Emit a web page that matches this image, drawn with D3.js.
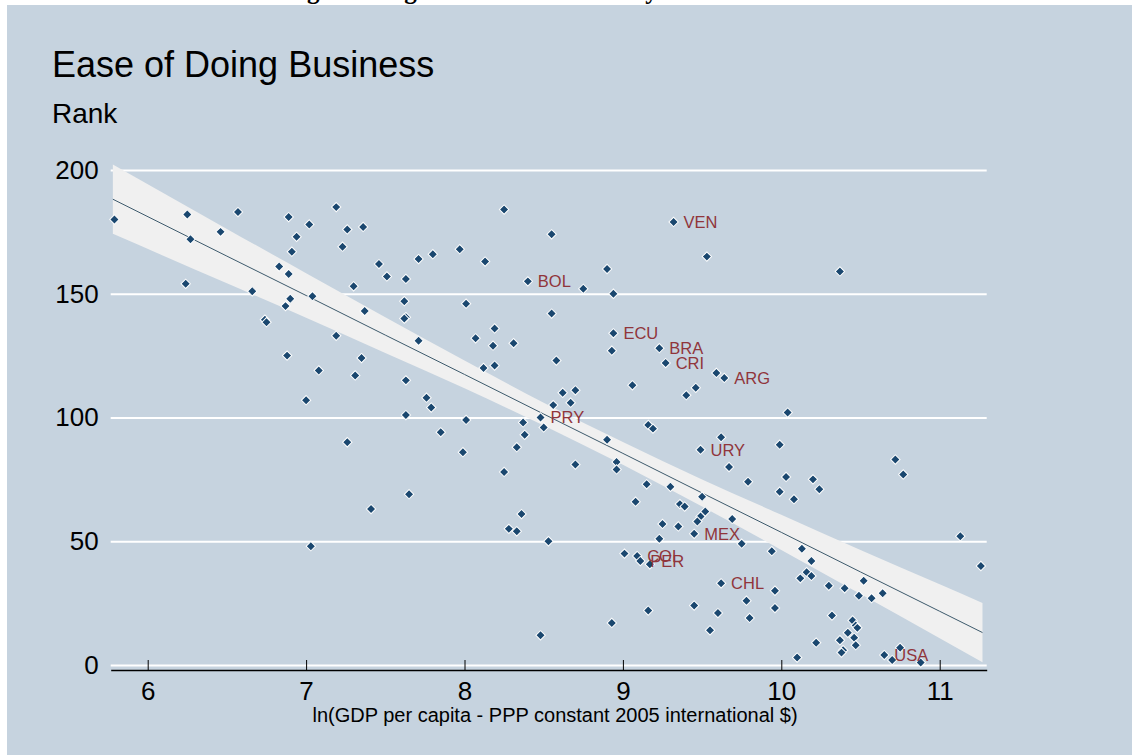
<!DOCTYPE html>
<html>
<head>
<meta charset="utf-8">
<script src="https://cdn.jsdelivr.net/npm/d3@7"></script>
<style>
  html, body { margin: 0; padding: 0; background: #ffffff; }
  svg { display: block; }
</style>
</head>
<body>
<svg id="chart" width="1132" height="755"></svg>
<script>
// ---------------- data ----------------
const lnGdp = [
  5.79, 6.25, 6.27, 6.24, 6.46, 6.57, 6.66, 6.74, 6.75, 6.83,
  6.89, 6.87, 6.90, 6.89, 6.94, 6.91, 7.02, 6.88, 7.04, 7.19,
  7.26, 7.23, 7.36, 7.30, 7.37, 7.19, 7.35, 7.08, 7.31, 7.00,
  7.46, 7.51, 7.26, 7.41, 7.03, 7.71, 7.80, 7.97, 8.13, 8.25,
  8.55, 7.63, 7.62, 7.63, 7.62, 8.01, 7.71, 8.07, 8.19, 8.18,
  8.31, 8.12, 8.19, 7.63, 7.76, 7.79, 7.63, 8.01, 8.37, 8.48,
  8.50, 8.40, 8.75, 8.90, 8.94, 8.55, 9.32, 9.53, 8.94, 8.93,
  9.23, 9.27, 9.59, 9.64, 9.40, 9.46, 9.06, 8.58, 8.62, 8.70,
  8.56, 8.67, 9.16, 9.19, 10.37, 10.04, 7.85, 7.99, 8.38, 8.33,
  8.25, 8.70, 7.65, 8.36, 8.28, 8.33, 8.53, 8.48, 8.90, 8.96,
  8.96, 9.15, 9.30, 9.08, 9.36, 9.39, 9.50, 9.52, 9.49, 9.47,
  9.25, 9.35, 9.45, 9.23, 9.69, 9.75, 9.62, 9.49, 9.67, 9.79,
  9.99, 9.01, 9.09, 9.11, 9.17, 9.62, 9.45, 9.78, 9.60, 9.16,
  9.80, 9.55, 8.93, 9.94, 9.96, 9.96, 10.03, 9.99, 10.08, 10.20,
  10.24, 10.72, 10.77, 11.13, 11.26, 10.13, 10.19, 10.16, 10.19, 10.12,
  10.30, 10.40, 10.52, 10.49, 10.57, 10.64, 10.32, 10.45, 10.47, 10.48,
  10.42, 10.46, 10.37, 10.47, 10.39, 10.38, 10.22, 10.10, 10.65, 10.70,
  10.75, 10.88
];
const rank = [
  180, 182, 172, 154, 175, 183, 151, 139.5, 138.5, 161,
  158, 145, 148, 181, 173, 167, 178, 125, 149, 185,
  176, 169, 177, 153, 143, 133, 124, 119, 117, 107,
  162, 157, 90, 63, 48, 164, 166, 168, 163, 184,
  174, 156, 147, 140.5, 140, 146, 131, 132, 136, 129,
  130, 120, 121, 115, 108, 104, 101, 99, 98, 100,
  96, 155, 152, 160, 150, 142, 179, 165, 134, 127,
  128, 122, 118, 116, 109, 112, 113, 123, 110, 111,
  105, 106, 97, 95.5, 159, 102, 94, 86, 93, 88,
  78, 81, 69, 61, 55, 54, 50, 12, 91, 82,
  79, 73, 72, 66, 65, 64, 68, 62, 60, 58,
  57, 56, 53, 51, 59, 49, 92, 87, 80, 74,
  89, 45, 44, 42, 40.7, 33, 24, 26, 21, 22,
  19, 14, 17, 46, 30, 23, 76, 70, 67, 75,
  71, 83, 77, 52, 40, 47, 42, 37.5, 36, 35,
  32, 31, 34, 28, 27, 29, 20, 18, 16, 15,
  13, 11, 10, 8, 6, 5, 9, 3, 4, 2,
  7, 1
];
const labelCodes = ["PRY","BOL","VEN","ECU","BRA","CRI","ARG","MEX","URY","COL","PER","CHL","USA"];
const labelIndex = [59, 61, 66, 68, 70, 71, 73, 112, 117, 122, 123, 125, 168];

// fitted line and 95% CI band
const fitX     = [5.78, 6.5, 7.0, 7.5, 8.0, 8.5, 9.0, 9.5, 10.0, 10.5, 11.0, 11.27];
const fitY     = [188.2, 165.2, 149.3, 133.3, 117.4, 101.4, 85.5, 69.5, 53.6, 37.6, 21.7, 13.1];
const ciLower  = [174.2, 154.2, 140.3, 126.1, 111.8, 96.8, 80.9, 64.0, 46.5, 28.7, 10.8, 1.1];
const ciUpper  = [202.2, 176.2, 158.3, 140.5, 123.0, 106.0, 90.1, 75.0, 60.7, 46.5, 32.6, 25.1];

const xTicks = [6, 7, 8, 9, 10, 11];
const yTicks = [0, 50, 100, 150, 200];

const titleText = "Ease of Doing Business";
const subtitleText = "Rank";
const xTitleText = "ln(GDP per capita - PPP constant 2005 international $)";
const topCaption = "Ranking of Doing Business and Country Income";

// ---------------- drawing ----------------
const svg = d3.select("#chart");
const W = 1132, H = 755;

svg.append("rect").attr("x", 7).attr("y", 5).attr("width", W - 7).attr("height", H - 5)
  .attr("fill", "#c6d3df");

// caption of the page above, cut by the top edge as in the reference
const cap = svg.append("text")
  .attr("x", 0).attr("y", -1.5)
  .attr("font-family", "'Liberation Serif', 'Times New Roman', serif")
  .attr("font-weight", "bold")
  .attr("font-size", 25)
  .attr("fill", "#000")
  .text(topCaption);
try {
  const off = cap.node().getSubStringLength(0, 6);
  cap.attr("x", 313 - off - 6);
} catch (e) { cap.attr("x", 230); }

const x = d3.scaleLinear().domain([5.7664, 11.2967]).range([110.7, 986.7]);
const y = d3.scaleLinear().domain([0, 200]).range([665, 170]);

const FONT = "'Liberation Sans', Arial, Helvetica, sans-serif";

// titles
svg.append("text").attr("x", 52).attr("y", 77)
  .attr("font-family", FONT).attr("font-size", 36).attr("fill", "#000")
  .text(titleText);
svg.append("text").attr("x", 52).attr("y", 123)
  .attr("font-family", FONT).attr("font-size", 28).attr("fill", "#000")
  .text(subtitleText);

// y axis with gridlines
const yAxis = svg.append("g")
  .attr("transform", `translate(${x.range()[0]},0)`)
  .call(d3.axisLeft(y).tickValues(yTicks).tickFormat(d3.format("d"))
    .tickSizeInner(-(x.range()[1] - x.range()[0])).tickSizeOuter(0).tickPadding(12));
yAxis.select(".domain").remove();
yAxis.selectAll(".tick line").attr("stroke", "#ffffff").attr("stroke-width", 2.2);
yAxis.selectAll(".tick text").attr("font-family", FONT).attr("font-size", 26).attr("fill", "#000");

// CI band
const bandData = fitX.map((v, i) => ({ x: v, lo: ciLower[i], hi: ciUpper[i], f: fitY[i] }));
svg.append("path").datum(bandData)
  .attr("fill", "#f0f0f0")
  .attr("d", d3.area().x(d => x(d.x)).y0(d => y(d.lo)).y1(d => y(d.hi)).curve(d3.curveMonotoneX));

// fitted line
svg.append("path").datum(bandData)
  .attr("fill", "none").attr("stroke", "#3d5a6c").attr("stroke-width", 1)
  .attr("d", d3.line().x(d => x(d.x)).y(d => y(d.f)));

// x axis
const xAxis = svg.append("g")
  .attr("transform", "translate(0,670)")
  .call(d3.axisBottom(x).tickValues(xTicks).tickFormat(d3.format("d"))
    .tickSizeInner(-10).tickSizeOuter(0).tickPadding(12));
xAxis.select(".domain").attr("stroke", "#000").attr("stroke-width", 1.5);
xAxis.selectAll(".tick line").attr("stroke", "#000").attr("stroke-width", 1);
xAxis.selectAll(".tick text").attr("font-family", FONT).attr("font-size", 26).attr("fill", "#000");

svg.append("text")
  .attr("x", 555).attr("y", 722).attr("text-anchor", "middle")
  .attr("font-family", FONT).attr("font-size", 20).attr("fill", "#000")
  .text(xTitleText);

// points
const pts = lnGdp.map((v, i) => ({ x: v, y: rank[i] }));
const sym = d3.symbol().type(d3.symbolSquare).size(44);
svg.append("g").selectAll("path").data(pts).join("path")
  .attr("d", sym)
  .attr("transform", d => `translate(${x(d.x)},${y(d.y)}) rotate(45)`)
  .attr("fill", "#1a476f")
  .attr("stroke", "#ffffff")
  .attr("stroke-width", 1);

// country labels
svg.append("g").selectAll("text").data(labelIndex).join("text")
  .attr("x", d => x(lnGdp[d]) + 10)
  .attr("y", d => y(rank[d]))
  .attr("dy", "0.36em")
  .attr("font-family", FONT).attr("font-size", 16.5)
  .attr("fill", "#90353b")
  .text((d, i) => labelCodes[i]);
</script>
</body>
</html>
